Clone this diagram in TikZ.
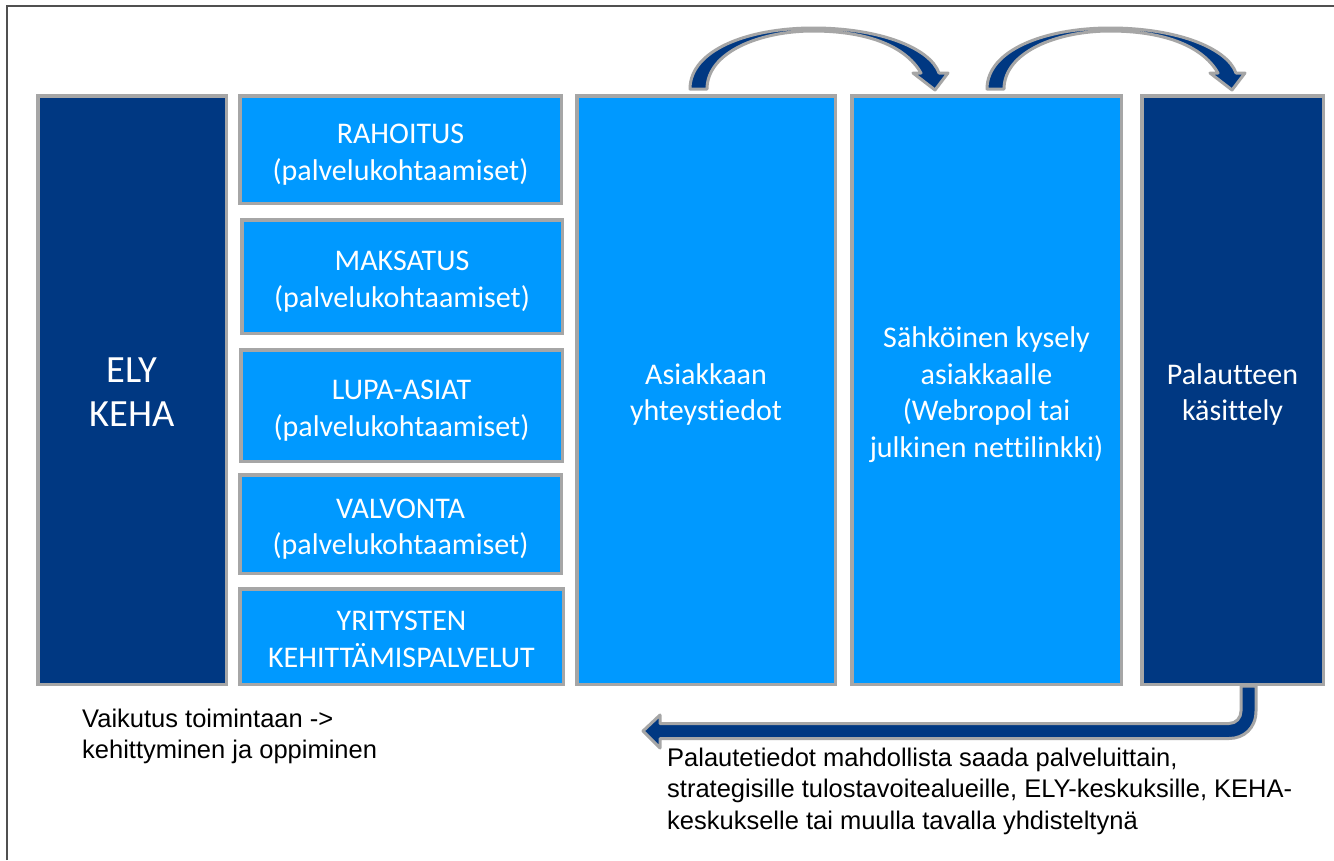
\documentclass[tikz,border=0pt]{standalone}
\usepackage{fontspec}
\setmainfont{Carlito}[Ligatures=NoCommon]
\newfontfamily\arialf{Liberation Sans}
\usetikzlibrary{calc}
\definecolor{lb}{RGB}{0,153,255}
\definecolor{db}{RGB}{0,56,130}
\definecolor{bgray}{RGB}{166,166,166}
\definecolor{fgray}{RGB}{80,80,80}
\newcommand{\boxtxt}[2][5pt]{\raisebox{-#1}[\height][\depth]{\begin{tabular}{@{}c@{}}#2\end{tabular}}}
\tikzset{
  boxbase/.style={rectangle, draw=bgray, line width=3.5pt, inner sep=0pt, align=center, text=white},
  lightbox/.style={boxbase, fill=lb, font=\fontsize{30}{36.5}\selectfont},
  darkbox/.style={boxbase, fill=db},
  arrowshape/.style={fill=db, draw=bgray, line width=3pt, line join=round},
  note/.style={inner sep=0pt, anchor=base west, font=\arialf\fontsize{25.5}{31.5}\selectfont},
  curvarrow/.pic={
    \path[arrowshape] (-16,-5) .. controls (-16,-44) and (42,-66) .. (107,-66)
      .. controls (174,-66) and (224,-46) .. (233,-21)
      -- (242,-21) -- (229,-4) -- (207,-21) -- (215,-21)
      .. controls (199,-49) and (159,-63) .. (107,-63)
      .. controls (54,-63) and (1,-42) .. (1,-5) -- cycle;
  }
}
\begin{document}
\begin{tikzpicture}[x=1pt,y=-1pt]
\useasboundingbox (0,0) rectangle (1334,860);
\fill[white] (0,0) rectangle (1334,860);
\draw[fgray, line width=1.5pt] (7,860) -- (7,6) -- (1334,6);

\node[darkbox, minimum width=188.5pt, minimum height=588.5pt, font=\fontsize{38.5}{44}\selectfont] (ely) at (132,390) {\boxtxt[5.5pt]{ELY\\KEHA}};

\node[lightbox, minimum width=321.5pt, minimum height=107.5pt] (rah) at (400.5,149.5) {\boxtxt{RAHOITUS\\(palvelukohtaamiset)}};
\node[lightbox, minimum width=320.5pt, minimum height=113.5pt] (mak) at (402,276.5) {\boxtxt{MAKSATUS\\(palvelukohtaamiset)}};
\node[lightbox, minimum width=321.5pt, minimum height=111.5pt] (lup) at (401.5,405.5) {\boxtxt{LUPA-ASIAT\\(palvelukohtaamiset)}};
\node[lightbox, minimum width=321.5pt, minimum height=98.5pt] (val) at (400.5,524) {\boxtxt{VALVONTA\\(palvelukohtaamiset)}};
\node[lightbox, minimum width=323.5pt, minimum height=95.5pt] (yri) at (401.5,636.5) {\boxtxt{YRITYSTEN\\KEHITTÄMISPALVELUT}};

\node[lightbox, minimum width=258.5pt, minimum height=588.5pt] (asi) at (706,390) {\boxtxt{Asiakkaan\\yhteystiedot}};
\node[lightbox, minimum width=269.5pt, minimum height=588.5pt] (sah) at (986.5,390) {\boxtxt{Sähköinen kysely\\asiakkaalle\\(Webropol tai\\julkinen nettilinkki)}};
\node[lightbox, fill=db, minimum width=181.5pt, minimum height=588.5pt] (pal) at (1232.5,390) {\boxtxt{Palautteen\\käsittely}};

\pic at (asi.north) {curvarrow};
\pic at ($(sah.north)+(16.5,0)$) {curvarrow};

\begin{scope}[shift={(pal.south)}]
\path[arrowshape] (8.5,0) -- (8.5,25) .. controls (8.5,32) and (3.5,37.5) .. (-3.5,37.5)
  -- (-572.5,37.5) -- (-572.5,29) -- (-589.5,45) -- (-572.5,62) -- (-572.5,52.5)
  -- (-3.5,52.5) .. controls (11.5,52.5) and (23.5,42) .. (23.5,25) -- (23.5,0) -- cycle;
\end{scope}

\node[note] (vaik) at (82,727) {\begin{tabular}[t]{@{}l@{}}Vaikutus toimintaan ->\\kehittyminen ja oppiminen\end{tabular}};
\node[note] (pti) at (667,766) {\begin{tabular}[t]{@{}l@{}}Palautetiedot mahdollista saada palveluittain,\\strategisille tulostavoitealueille, ELY-keskuksille, KEHA-\\keskukselle tai muulla tavalla yhdisteltynä\end{tabular}};
\end{tikzpicture}
\end{document}
